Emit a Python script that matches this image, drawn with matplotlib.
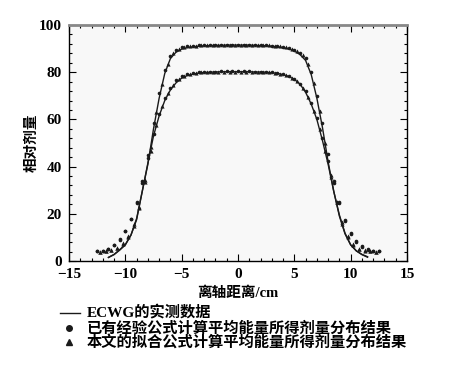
import matplotlib
matplotlib.use("Agg")
import matplotlib.pyplot as plt
from matplotlib.lines import Line2D
from matplotlib.ticker import MultipleLocator
import numpy as np

# measured ECWG profiles (solid lines), x = -11.5 .. 11.5 step 0.5
x_line = np.arange(-11.5, 11.51, 0.5)
upper_line = [1.5, 2.8, 4.8, 7.0, 11.0, 17.5, 29.5, 41.0, 56.0, 69.0, 79.5, 85.8,
              88.5, 89.8, 90.4, 90.8, 91.0, 91.2, 91.3, 91.4, 91.4, 91.5, 91.5, 91.5,
              91.5, 91.5, 91.4, 91.3, 91.2, 91.0, 90.8, 90.4, 89.9, 89.0, 87.5, 85.0,
              79.0, 69.0, 56.5, 42.0, 29.5, 19.0, 11.5, 6.8, 4.3, 2.8, 1.8]
lower_line = [1.5, 2.7, 4.6, 6.8, 11.0, 18.0, 29.5, 41.5, 53.0, 61.5, 68.0, 72.5,
              75.5, 77.5, 78.6, 79.2, 79.6, 79.9, 80.0, 80.1, 80.2, 80.2, 80.2, 80.2,
              80.2, 80.2, 80.1, 80.1, 80.0, 79.8, 79.5, 79.0, 78.2, 77.0, 75.0, 71.5,
              66.5, 60.0, 51.0, 41.0, 29.5, 19.5, 11.8, 6.9, 4.3, 2.7, 1.6]

# existing empirical formula (circles), x = -12.5 .. 12.5 step 0.5
x_circ = np.arange(-12.5, 12.51, 0.5)
upper_circ = [4.2, 4.4, 5.0, 6.6, 9.3, 12.8, 18.0, 25.0, 34.0, 45.0, 58.5, 71.0, 81.0,
              87.0, 89.5, 90.5, 91.0, 91.3, 91.4, 91.5, 91.5, 91.6, 91.6, 91.6, 91.6,
              91.6, 91.6, 91.6, 91.5, 91.5, 91.4, 91.3, 91.1, 90.8, 90.3, 89.6,
              88.3, 86.0, 80.0, 70.0, 58.5, 45.5, 34.0, 25.0, 17.5, 12.0, 8.5, 6.2,
              5.0, 4.4, 4.2]
lower_circ = [4.2, 4.4, 5.0, 6.6, 9.0, 12.5, 17.8, 24.5, 33.0, 43.5, 54.0, 62.5, 69.0,
              73.5, 76.5, 78.3, 79.2, 79.7, 80.0, 80.2, 80.3, 80.3, 80.4, 80.4, 80.4,
              80.4, 80.4, 80.4, 80.3, 80.3, 80.2, 80.0, 79.7, 79.2, 78.4, 77.2, 75.2,
              72.0, 67.0, 60.5, 52.0, 42.5, 33.0, 24.5, 17.0, 11.5, 8.0, 6.0, 4.8,
              4.3, 4.1]

# fitted formula of this paper (triangles), x = -12.25 .. 12.25 step 0.5
x_tri = np.arange(-12.25, 12.26, 0.5)
upper_tri = [4.0, 4.2, 4.5, 5.5, 7.5, 10.5, 15.5, 23.0, 34.5, 48.5, 63.0, 75.0, 83.5,
             88.0, 90.0, 90.8, 91.1, 91.3, 91.4, 91.5, 91.5, 91.5, 91.6, 91.6, 91.6,
             91.6, 91.6, 91.5, 91.5, 91.5, 91.4, 91.2, 91.0, 90.6, 90.0, 89.0, 87.3,
             83.5, 75.5, 63.5, 50.0, 36.5, 25.0, 16.5, 10.5, 7.0, 5.2, 4.5, 4.2, 4.0]
lower_tri = [4.0, 4.2, 4.5, 5.4, 7.3, 10.3, 15.0, 22.5, 33.5, 46.5, 57.5, 65.5, 71.0,
             74.5, 77.0, 78.4, 79.2, 79.7, 80.0, 80.1, 80.2, 80.3, 80.3, 80.3, 80.3,
             80.3, 80.3, 80.3, 80.2, 80.1, 80.0, 79.8, 79.4, 78.7, 77.7, 76.2, 73.5,
             69.3, 63.5, 56.0, 46.5, 35.5, 24.8, 15.8, 10.0, 6.8, 5.0, 4.4, 4.1, 4.0]

legend_labels = ["ECWG的实测数据",
                 "已有经验公式计算平均能量所得剂量分布结果",
                 "本文的拟合公式计算平均能量所得剂量分布结果"]

FONT = ["Liberation Serif", "Noto Sans CJK SC"]
INK = "#1a1a1a"

fig = plt.figure(figsize=(4.52, 3.68), dpi=100)
ax = fig.add_axes([0.1527, 0.2908, 0.7477, 0.6412])
ax.set_facecolor("#f8f8f8")

for yl in (upper_line, lower_line):
    ax.plot(x_line, yl, color=INK, lw=1.0)
for yc in (upper_circ, lower_circ):
    ax.plot(x_circ, yc, ls="none", marker="o", ms=2.6, color=INK, mew=0)
for yt in (upper_tri, lower_tri):
    ax.plot(x_tri, yt, ls="none", marker="^", ms=3.0, color=INK, mew=0)

ax.set_xlim(-15, 15)
ax.set_ylim(0, 100)
ax.xaxis.set_major_locator(MultipleLocator(5))
ax.xaxis.set_minor_locator(MultipleLocator(1))
ax.yaxis.set_major_locator(MultipleLocator(20))
ax.yaxis.set_minor_locator(MultipleLocator(4))
ax.tick_params(which="both", direction="in", top=True, right=True, width=0.8)
ax.tick_params(which="major", length=5, labelsize=11)
ax.tick_params(axis="x", which="major", pad=5)
ax.tick_params(axis="y", which="major", pad=5)
ax.tick_params(which="minor", length=2.5)
for lab in ax.get_xticklabels() + ax.get_yticklabels():
    lab.set_family(FONT)
    lab.set_fontweight("bold")
for s in ("left", "right", "bottom"):
    ax.spines[s].set_linewidth(1.0)
ax.spines["top"].set_color("#888888")
ax.spines["top"].set_linewidth(2.0)

ax.set_xlabel("离轴距离/cm", family=FONT, fontweight="bold", fontsize=10.5, labelpad=4)
ax.set_ylabel("相对剂量", family=FONT, fontweight="bold", fontsize=10.5, labelpad=0)

# legend drawn below the axes
rows_y = [313, 328, 342]
W, H = 452.0, 368.0
for i, (lab, yy) in enumerate(zip(legend_labels, rows_y)):
    fy = 1 - yy / H
    if i == 0:
        fig.add_artist(Line2D([60 / W, 80 / W], [fy, fy], color=INK, lw=1.0,
                              transform=fig.transFigure))
    else:
        fig.add_artist(Line2D([69 / W], [fy], ls="none", marker="o" if i == 1 else "^",
                              ms=4, color=INK, transform=fig.transFigure))
    fig.text(87 / W, fy, lab, family=FONT, fontweight="bold", fontsize=11,
             va="center", ha="left")

fig.savefig("out.png", dpi=100)
